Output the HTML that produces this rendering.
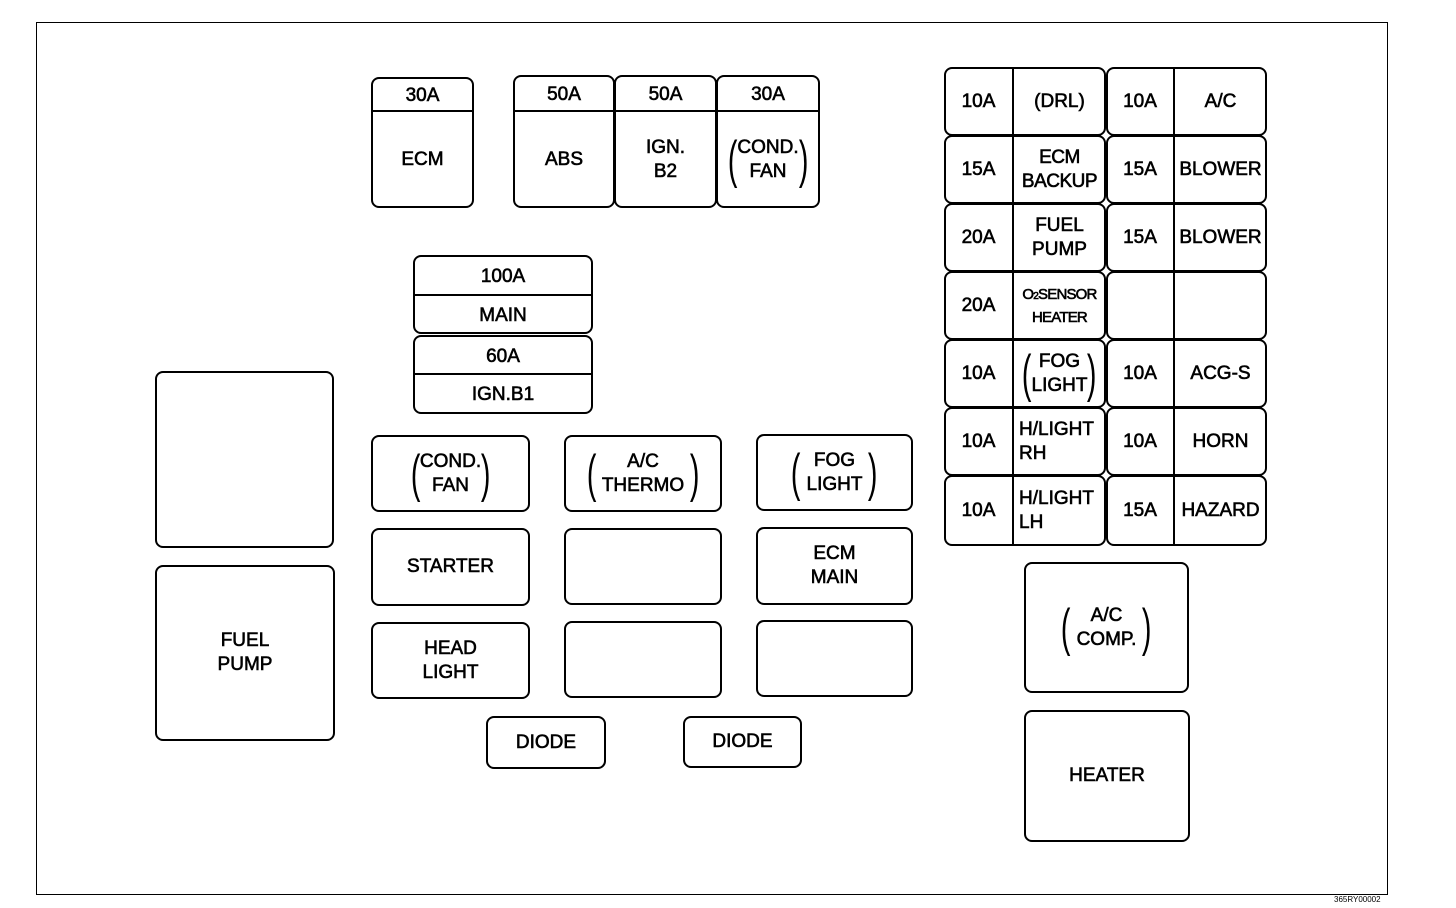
<!DOCTYPE html>
<html><head><meta charset="utf-8"><style>
body{margin:0;width:1456px;height:908px;background:#fff;position:relative;overflow:hidden;font-family:"Liberation Sans",sans-serif;color:#000}
.f{position:absolute;border:1px solid #000;left:36px;top:22px;width:1352px;height:873px;box-sizing:border-box}
.b{position:absolute;border:2px solid #000;border-radius:8px;box-sizing:border-box;display:flex;align-items:center;justify-content:center;text-align:center;font-size:19px;line-height:24px;-webkit-text-stroke:0.6px #000}
.c{position:absolute;display:flex;align-items:center;justify-content:center;text-align:center;font-size:19px;line-height:24px;-webkit-text-stroke:0.6px #000;box-sizing:border-box}
.vl{position:absolute;top:0;bottom:0;border-left:2px solid #000}
.p{font-size:52px;line-height:52px;-webkit-text-stroke:0;font-weight:normal;transform:scaleX(0.55);display:inline-block;margin:0 -4px}
</style></head><body>
<div class="f"></div>

<div class="b" style="left:371px;top:77px;width:103px;height:131px"></div>
<div class="c" style="left:371px;top:79px;width:103px;height:33px">30A</div>
<div style="position:absolute;left:371px;top:110px;width:103px;border-top:2px solid #000"></div>
<div class="c" style="left:371px;top:112px;width:103px;height:96px">ECM</div>

<div class="b" style="left:513px;top:75px;width:102px;height:133px"></div>
<div class="b" style="left:614px;top:75px;width:103px;height:133px"></div>
<div class="b" style="left:716px;top:75px;width:104px;height:133px"></div>
<div style="position:absolute;left:513px;top:110px;width:307px;border-top:2px solid #000"></div>
<div class="c" style="left:513px;top:78px;width:102px;height:33px">50A</div>
<div class="c" style="left:614px;top:78px;width:103px;height:33px">50A</div>
<div class="c" style="left:716px;top:78px;width:104px;height:33px">30A</div>
<div class="c" style="left:513px;top:112px;width:102px;height:96px">ABS</div>
<div class="c" style="left:614px;top:112px;width:103px;height:96px">IGN.<br>B2</div>
<div class="c" style="left:716px;top:112px;width:104px;height:96px"><span class="p">(</span><span>COND.<br>FAN</span><span class="p">)</span></div>

<div class="b" style="left:413px;top:255px;width:180px;height:79px"></div>
<div style="position:absolute;left:413px;top:294px;width:180px;border-top:2px solid #000"></div>
<div class="c" style="left:413px;top:258px;width:180px;height:38px">100A</div>
<div class="c" style="left:413px;top:297px;width:180px;height:37px">MAIN</div>
<div class="b" style="left:413px;top:335px;width:180px;height:79px"></div>
<div style="position:absolute;left:413px;top:373px;width:180px;border-top:2px solid #000"></div>
<div class="c" style="left:413px;top:338px;width:180px;height:37px">60A</div>
<div class="c" style="left:413px;top:376px;width:180px;height:37px">IGN.B1</div>

<div class="b" style="left:155px;top:371px;width:179px;height:177px"></div>
<div class="b" style="left:155px;top:565px;width:180px;height:176px">FUEL<br>PUMP</div>

<div class="b" style="left:371px;top:435px;width:159px;height:77px"><span class="p">(</span><span>COND.<br>FAN</span><span class="p">)</span></div>
<div class="b" style="left:564px;top:435px;width:158px;height:77px"><span class="p">(</span><span style="margin:0 6px">A/C<br>THERMO</span><span class="p">)</span></div>
<div class="b" style="left:756px;top:434px;width:157px;height:77px"><span class="p">(</span><span style="margin:0 6px">FOG<br>LIGHT</span><span class="p">)</span></div>
<div class="b" style="left:371px;top:528px;width:159px;height:78px">STARTER</div>
<div class="b" style="left:564px;top:528px;width:158px;height:77px"></div>
<div class="b" style="left:756px;top:527px;width:157px;height:78px">ECM<br>MAIN</div>
<div class="b" style="left:371px;top:622px;width:159px;height:77px">HEAD<br>LIGHT</div>
<div class="b" style="left:564px;top:621px;width:158px;height:77px"></div>
<div class="b" style="left:756px;top:620px;width:157px;height:77px"></div>

<div class="b" style="left:486px;top:716px;width:120px;height:53px">DIODE</div>
<div class="b" style="left:683px;top:716px;width:119px;height:52px">DIODE</div>

<div style="position:absolute;left:944px;top:67px;width:323px;height:479px">
  <div class="b" style="left:0;top:0;width:162px;height:69px"></div><div class="b" style="left:162px;top:0;width:161px;height:69px"></div>
  <div class="b" style="left:0;top:68px;width:162px;height:69px"></div><div class="b" style="left:162px;top:68px;width:161px;height:69px"></div>
  <div class="b" style="left:0;top:136px;width:162px;height:69px"></div><div class="b" style="left:162px;top:136px;width:161px;height:69px"></div>
  <div class="b" style="left:0;top:204px;width:162px;height:69px"></div><div class="b" style="left:162px;top:204px;width:161px;height:69px"></div>
  <div class="b" style="left:0;top:272px;width:162px;height:69px"></div><div class="b" style="left:162px;top:272px;width:161px;height:69px"></div>
  <div class="b" style="left:0;top:340px;width:162px;height:69px"></div><div class="b" style="left:162px;top:340px;width:161px;height:69px"></div>
  <div class="b" style="left:0;top:408px;width:162px;height:71px"></div><div class="b" style="left:162px;top:408px;width:161px;height:71px"></div>
  <div class="vl" style="left:68px"></div>
  <div class="vl" style="left:229px"></div>

  <div class="c" style="left:0;top:0;width:69px;height:69px">10A</div>
  <div class="c" style="left:69px;top:0;width:93px;height:69px">(DRL)</div>
  <div class="c" style="left:162px;top:0;width:68px;height:69px">10A</div>
  <div class="c" style="left:230px;top:0;width:93px;height:69px">A/C</div>

  <div class="c" style="left:0;top:68px;width:69px;height:69px">15A</div>
  <div class="c" style="left:69px;top:68px;width:93px;height:69px;letter-spacing:-0.5px">ECM<br>BACKUP</div>
  <div class="c" style="left:162px;top:68px;width:68px;height:69px">15A</div>
  <div class="c" style="left:230px;top:68px;width:93px;height:69px">BLOWER</div>

  <div class="c" style="left:0;top:136px;width:69px;height:69px">20A</div>
  <div class="c" style="left:69px;top:136px;width:93px;height:69px">FUEL<br>PUMP</div>
  <div class="c" style="left:162px;top:136px;width:68px;height:69px">15A</div>
  <div class="c" style="left:230px;top:136px;width:93px;height:69px">BLOWER</div>

  <div class="c" style="left:0;top:204px;width:69px;height:69px">20A</div>
  <div class="c" style="left:69px;top:204px;width:93px;height:69px;font-size:15px;line-height:21px;letter-spacing:-0.8px"><span>O<span style="font-size:10px">2</span>SENSOR<br>HEATER</span></div>

  <div class="c" style="left:0;top:272px;width:69px;height:69px">10A</div>
  <div class="c" style="left:69px;top:272px;width:93px;height:69px"><span class="p">(</span><span>FOG<br>LIGHT</span><span class="p">)</span></div>
  <div class="c" style="left:162px;top:272px;width:68px;height:69px">10A</div>
  <div class="c" style="left:230px;top:272px;width:93px;height:69px">ACG-S</div>

  <div class="c" style="left:0;top:340px;width:69px;height:69px">10A</div>
  <div class="c" style="left:69px;top:340px;width:93px;height:69px;justify-content:flex-start;padding-left:6px;text-align:left">H/LIGHT<br>RH</div>
  <div class="c" style="left:162px;top:340px;width:68px;height:69px">10A</div>
  <div class="c" style="left:230px;top:340px;width:93px;height:69px">HORN</div>

  <div class="c" style="left:0;top:408px;width:69px;height:71px">10A</div>
  <div class="c" style="left:69px;top:408px;width:93px;height:71px;justify-content:flex-start;padding-left:6px;text-align:left">H/LIGHT<br>LH</div>
  <div class="c" style="left:162px;top:408px;width:68px;height:71px">15A</div>
  <div class="c" style="left:230px;top:408px;width:93px;height:71px">HAZARD</div>
</div>

<div class="b" style="left:1024px;top:562px;width:165px;height:131px"><span class="p">(</span><span style="margin:0 6px">A/C<br>COMP.</span><span class="p">)</span></div>
<div class="b" style="left:1024px;top:710px;width:166px;height:132px">HEATER</div>

<div style="position:absolute;left:1334px;top:895px;font-size:8px;font-family:'Liberation Sans',sans-serif">365RY00002</div>
</body></html>
